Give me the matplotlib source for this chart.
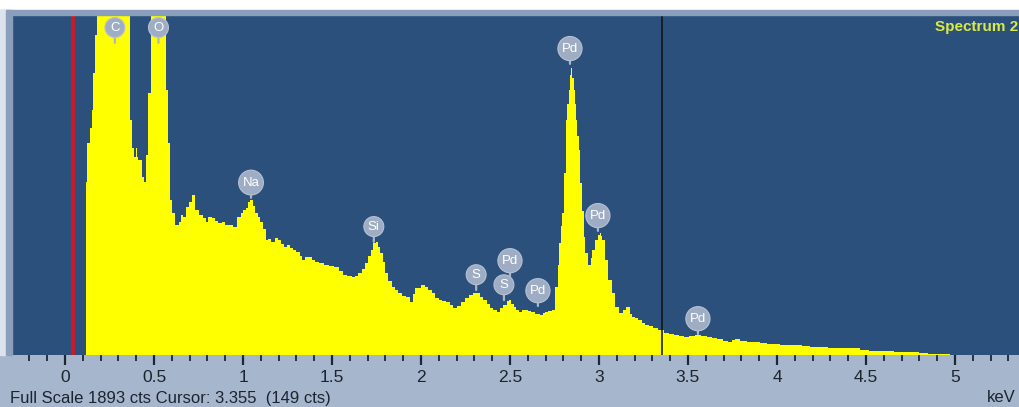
import numpy as np
import matplotlib
matplotlib.use('Agg')
import matplotlib.pyplot as plt
from matplotlib.ticker import MultipleLocator, FormatStrFormatter

# EDS spectrum, channel energy (keV) and counts
energy = [0.115, 0.122, 0.13, 0.145, 0.153, 0.163, 0.174, 0.18, 0.25, 0.30, 0.36,
          0.369, 0.38, 0.393, 0.40, 0.405, 0.42, 0.44, 0.449, 0.463, 0.474, 0.487,
          0.525, 0.565, 0.575, 0.586, 0.596, 0.609, 0.631, 0.645, 0.656, 0.67, 0.689,
          0.705, 0.721, 0.74, 0.768, 0.785, 0.796, 0.815, 0.833, 0.85, 0.871, 0.89,
          0.908, 0.93, 0.955, 0.983, 0.993, 1.011, 1.021, 1.035, 1.049, 1.063, 1.077,
          1.09, 1.105, 1.12, 1.133, 1.15, 1.17, 1.19, 1.208, 1.22, 1.236, 1.255,
          1.274, 1.29, 1.311, 1.325, 1.339, 1.355, 1.376, 1.395, 1.414, 1.44, 1.47,
          1.50, 1.526, 1.55, 1.573, 1.60, 1.62, 1.64, 1.657, 1.675, 1.695, 1.71,
          1.723, 1.74, 1.751, 1.765, 1.779, 1.79, 1.807, 1.825, 1.844, 1.86, 1.882,
          1.905, 1.929, 1.948, 1.962, 1.976, 1.994, 2.01, 2.03, 2.05, 2.07, 2.09,
          2.107, 2.13, 2.153, 2.17, 2.19, 2.21, 2.238, 2.26, 2.285, 2.305, 2.32,
          2.34, 2.36, 2.38, 2.397, 2.415, 2.435, 2.455, 2.472, 2.49, 2.50, 2.515,
          2.528, 2.545, 2.556, 2.575, 2.594, 2.61, 2.631, 2.655, 2.678, 2.69, 2.706,
          2.725, 2.743, 2.762, 2.772, 2.78, 2.79, 2.80, 2.809, 2.818, 2.826, 2.833,
          2.84, 2.846, 2.853, 2.861, 2.868, 2.874, 2.882, 2.889, 2.902, 2.91, 2.917,
          2.93, 2.949, 2.958, 2.968, 2.987, 3.00, 3.006, 3.015, 3.024, 3.043, 3.062,
          3.081, 3.103, 3.127, 3.145, 3.164, 3.18, 3.193, 3.21, 3.23, 3.25, 3.268,
          3.29, 3.315, 3.352, 3.38, 3.41, 3.436, 3.465, 3.492, 3.525, 3.558, 3.59,
          3.624, 3.65, 3.68, 3.71, 3.736, 3.755, 3.773, 3.81, 3.848, 3.885, 3.923,
          3.96, 3.998, 4.035, 4.073, 4.12, 4.167, 4.21, 4.26, 4.31, 4.354, 4.40,
          4.448, 4.49, 4.541, 4.59, 4.635, 4.68, 4.729, 4.775, 4.822, 4.87, 4.916,
          4.96, 4.98]
counts = [0, 964, 1181, 1264, 1365, 1571, 1782, 2100, 2700, 2800, 2200,
          1309, 1153, 1103, 1150, 1103, 1086, 992, 964, 1114, 1459, 1980,
          2500, 2100, 1476, 1181, 863, 791, 724, 740, 780, 770, 824,
          850, 891, 808, 780, 760, 741, 770, 763, 745, 735, 740,
          724, 724, 713, 769, 791, 808, 820, 850, 863, 830, 791,
          770, 741, 700, 641, 645, 630, 650, 641, 620, 602, 610,
          596, 585, 574, 550, 529, 545, 546, 530, 518, 510, 501,
          495, 490, 470, 446, 440, 434, 440, 457, 480, 512, 550,
          585, 625, 630, 600, 568, 520, 457, 410, 379, 360, 345,
          330, 323, 295, 340, 373, 373, 390, 379, 360, 345, 320,
          306, 300, 295, 280, 262, 275, 295, 315, 334, 345, 345,
          325, 306, 285, 262, 250, 240, 260, 279, 300, 306, 285,
          267, 250, 240, 248, 251, 245, 240, 230, 223, 235, 240,
          245, 251, 380, 500, 624, 720, 791, 1014, 1309, 1400, 1476,
          1560, 1599, 1540, 1476, 1400, 1309, 1220, 1142, 958, 800, 657,
          568, 501, 540, 585, 641, 670, 680, 665, 641, 529, 418,
          345, 267, 234, 250, 267, 230, 212, 205, 195, 180, 167,
          160, 150, 139, 123, 115, 111, 105, 100, 106, 111, 104,
          100, 94, 89, 80, 72, 82, 89, 78, 72, 70, 67,
          63, 61, 58, 56, 53, 50, 47, 45, 41, 39, 40,
          39, 30, 22, 24, 22, 19, 17, 14, 11, 8, 6,
          3, 0]

full_scale = 1893
cursor_kev = 3.355
cursor_cts = 149
marker_kev = 0.045

# element labels: name, line energy, height of the label stem
peak_names = ['C', 'O', 'Na', 'Si', 'S', 'Pd', 'S', 'Pd', 'Pd', 'Pd', 'Pd']
peak_kev = [0.28, 0.525, 1.045, 1.735, 2.31, 2.50, 2.466, 2.657, 2.837, 2.994, 3.556]
peak_cts = [1738, 1738, 875, 630, 362, 440, 306, 273, 1621, 691, 117]

W, H = 1019, 407
plt.rcParams['font.family'] = ['Liberation Sans', 'DejaVu Sans']
fig = plt.figure(figsize=(W / 100, H / 100), dpi=100)
fig.patch.set_facecolor('#a6b6cc')

# window frame above and left of the plot
fig.patches.append(plt.Rectangle((0, 1 - 10 / H), 1, 10 / H, transform=fig.transFigure,
                                 color='white', zorder=0))
fig.patches.append(plt.Rectangle((0, 1 - 15 / H), 1, 5 / H, transform=fig.transFigure,
                                 color='#8b9ebb', zorder=0))
fig.patches.append(plt.Rectangle((0, 52 / H), 6 / W, 1 - 62 / H, transform=fig.transFigure,
                                 color='#dde3ec', zorder=0))
fig.patches.append(plt.Rectangle((6 / W, 52 / H), 6 / W, 1 - 62 / H, transform=fig.transFigure,
                                 color='#8b9ebb', zorder=0))

ax = fig.add_axes([12 / W, 52 / H, 1 - 12 / W, 340 / H])
ax.set_facecolor('#2c507c')
ax.fill_between(energy, counts, step='mid', color='#ffff00', lw=0, zorder=2)
ax.axvline(marker_kev, color='#d5161e', lw=2.6, zorder=3)
ax.axvline(cursor_kev, color='#0e1216', lw=1.1, zorder=3)
ax.set_xlim(-0.298, 5.36)
ax.set_ylim(0, full_scale)

for s in ax.spines.values():
    s.set_visible(False)
ax.set_yticks([])
ax.xaxis.set_major_locator(MultipleLocator(0.5))
ax.xaxis.set_minor_locator(MultipleLocator(0.1))
ax.xaxis.set_major_formatter(FormatStrFormatter('%g'))
ax.tick_params(axis='x', which='major', length=7, width=1.6, color='#1c2838',
               pad=4, labelsize=12.5, labelcolor='#1c2430')
ax.tick_params(axis='x', which='minor', length=4, width=1.3, color='#1c2838')

for name, e, c in zip(peak_names, peak_kev, peak_cts):
    ax.annotate(name, xy=(e, c), xytext=(0, 11), textcoords='offset points',
                ha='center', va='center', fontsize=9.5, color='white', zorder=5,
                bbox=dict(boxstyle='circle,pad=0.3', fc='#9eadc3', ec='#b7c2d3', lw=0.8),
                arrowprops=dict(arrowstyle='-', color='#a9b6ca', lw=1.6,
                                shrinkA=0, shrinkB=0))

fig.text(935 / W, 1 - 27 / H, 'Spectrum 2', color='#d8ea44', fontsize=11,
         fontweight='bold', ha='left', va='center')
fig.text(10 / W, 1 - 398 / H,
         'Full Scale %d cts Cursor: %.3f  (%d cts)' % (full_scale, cursor_kev, cursor_cts),
         color='#1c2430', fontsize=12, ha='left', va='center')
fig.text(1016 / W, 1 - 398 / H, 'keV', color='#1c2430', fontsize=12,
         ha='right', va='center')

fig.savefig('out.png', dpi=100, facecolor=fig.get_facecolor())
